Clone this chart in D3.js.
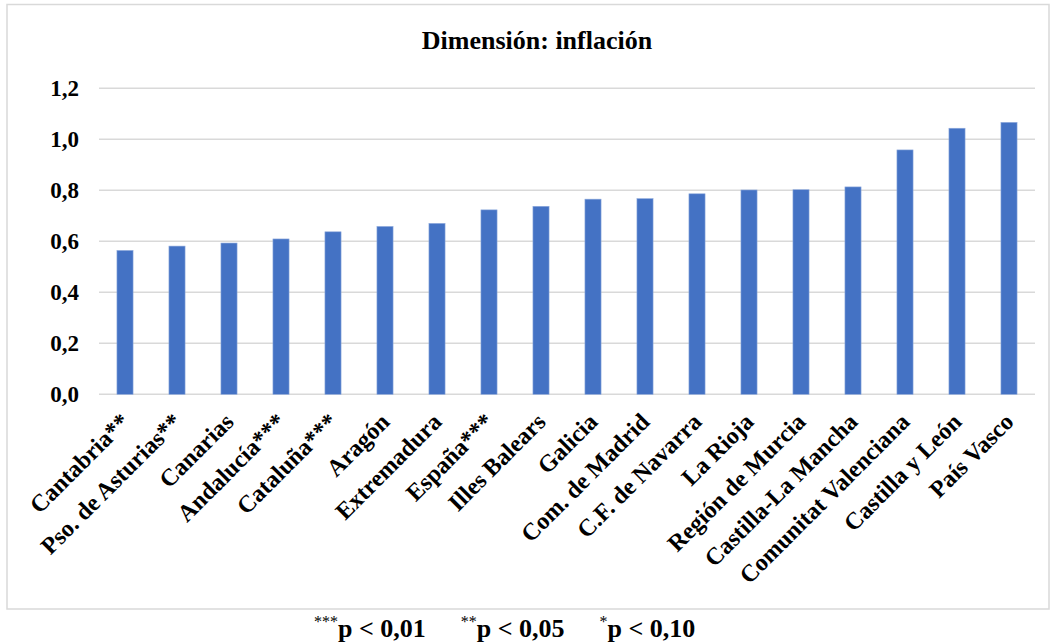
<!DOCTYPE html>
<html>
<head>
<meta charset="utf-8">
<script src="https://cdn.jsdelivr.net/npm/d3@7"></script>
<style>
  html, body { margin: 0; padding: 0; background: #ffffff; }
  svg { display: block; }
  text { font-family: "Liberation Serif", "Times New Roman", serif; font-weight: bold; fill: #000; }
</style>
</head>
<body>
<svg id="chart" width="1056" height="643"></svg>
<script>
// Regions, sorted by the inflation dimension score
const regions = [
  "Cantabria**", "Pso. de Asturias**", "Canarias", "Andalucía***", "Cataluña***",
  "Aragón", "Extremadura", "España***", "Illes Balears", "Galicia",
  "Com. de Madrid", "C.F. de Navarra", "La Rioja", "Región de Murcia",
  "Castilla-La Mancha", "Comunitat Valenciana", "Castilla y León", "País Vasco"
];
const scores = [
  0.564, 0.581, 0.593, 0.609, 0.637,
  0.658, 0.670, 0.723, 0.737, 0.765,
  0.767, 0.786, 0.801, 0.802,
  0.813, 0.958, 1.043, 1.066
];
const yTicks = [0, 0.2, 0.4, 0.6, 0.8, 1.0, 1.2];
const chartTitle = "Dimensión: inflación";
const notes = [["***", "p < 0,01"], ["**", "p < 0,05"], ["*", "p < 0,10"]];

const svg = d3.select("#chart");
const plot = { left: 99, right: 1035, top: 88.2, bottom: 394.3 };
const serif = '"Liberation Serif", "Times New Roman", serif';

// outer frame
svg.append("rect")
  .attr("x", 7).attr("y", 4.5)
  .attr("width", 1042).attr("height", 604.5)
  .attr("fill", "none").attr("stroke", "#d9d9d9").attr("stroke-width", 1.5);

const x = d3.scaleBand().domain(regions).range([plot.left, plot.right])
  .paddingInner(0.69).paddingOuter(0.345);
const y = d3.scaleLinear().domain([0, 1.2]).range([plot.bottom, plot.top]);

// gridlines
svg.append("g").selectAll("line").data(yTicks).join("line")
  .attr("x1", plot.left).attr("x2", plot.right)
  .attr("y1", d => y(d)).attr("y2", d => y(d))
  .attr("stroke", "#d9d9d9").attr("stroke-width", 1.5);

// y axis labels
const yAxis = d3.axisLeft(y).tickValues(yTicks).tickSize(0).tickPadding(20)
  .tickFormat(d => d3.format(".1f")(d).replace(".", ","));
svg.append("g").attr("transform", `translate(${plot.left},0)`).call(yAxis)
  .call(g => g.select(".domain").remove())
  .call(g => g.selectAll("text").style("font-size", "23px")
    .style("font-family", serif).style("font-weight", "bold").attr("fill", "#000"));

// bars
svg.append("g").selectAll("rect").data(regions).join("rect")
  .attr("x", d => x(d))
  .attr("width", x.bandwidth())
  .attr("y", (d, i) => y(scores[i]))
  .attr("height", (d, i) => y(0) - y(scores[i]))
  .attr("fill", "#4472c4")
  .attr("stroke", "#8faadc").attr("stroke-width", 0.6);

// category labels, rotated 45 degrees
const xAxis = d3.axisBottom(x).tickSize(0).tickPadding(0);
svg.append("g").attr("transform", `translate(0,${plot.bottom})`).call(xAxis)
  .call(g => g.select(".domain").remove())
  .call(g => g.selectAll("text")
    .attr("y", 0).attr("dy", 0)
    .attr("text-anchor", "end")
    .attr("transform", "translate(6,29) rotate(-45)")
    .style("font-size", "24px")
    .style("font-family", serif).style("font-weight", "bold").attr("fill", "#000"));

// title
svg.append("text").attr("x", 537).attr("y", 49.3).attr("text-anchor", "middle")
  .style("font-size", "26px").text(chartTitle);

// significance note below the frame
const note = svg.append("text").attr("x", 314).attr("y", 637).attr("text-anchor", "start")
  .style("font-size", "26px");
notes.forEach(([stars, txt], i) => {
  note.append("tspan").attr("dx", i === 0 ? 0 : 35).attr("dy", -10)
    .style("font-size", "16px").style("font-weight", "normal").text(stars);
  note.append("tspan").attr("dy", 10).text(txt);
});
</script>
</body>
</html>
